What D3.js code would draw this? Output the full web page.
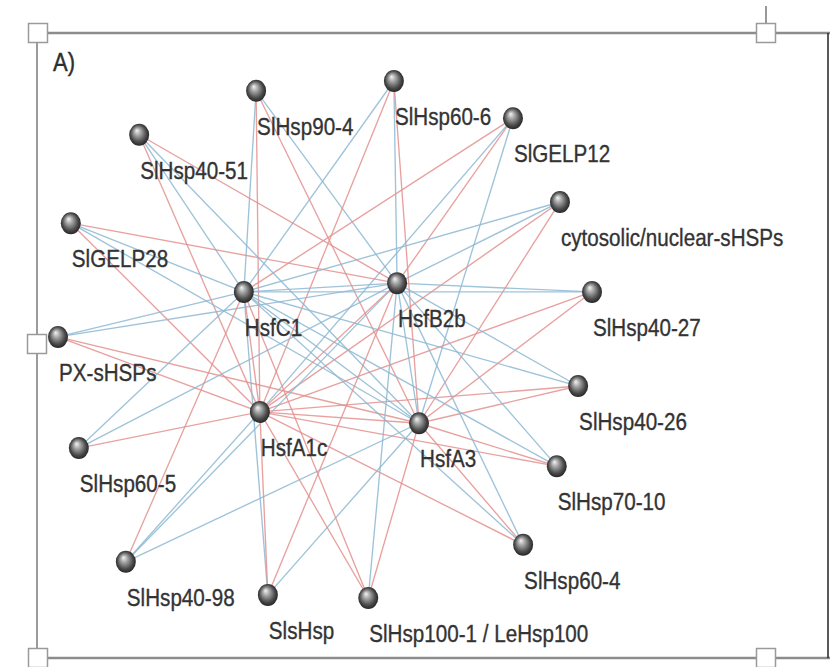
<!DOCTYPE html>
<html>
<head>
<meta charset="utf-8">
<script src="https://cdn.jsdelivr.net/npm/d3@7"></script>
<style>
  html, body { margin: 0; padding: 0; background: #fff; }
  svg { display: block; }
</style>
</head>
<body>
<svg id="chart" width="830" height="667"></svg>
<script>
// Network of heat-stress transcription factors (hubs) and their target chaperones.
// Layout coordinates are in a 0–100 unit space on each axis.
const nodeNames = [
  "SlHsp90-4", "SlHsp60-6", "SlGELP12", "SlHsp40-51", "cytosolic/nuclear-sHSPs",
  "SlGELP28", "HsfC1", "HsfB2b", "SlHsp40-27", "PX-sHSPs",
  "HsfA1c", "HsfA3", "SlHsp40-26", "SlHsp60-5", "SlHsp70-10",
  "SlHsp60-4", "SlHsp40-98", "SlsHsp", "SlHsp100-1 / LeHsp100"
];
const nodeX = [37.1, 62.9, 85.2, 15.2, 94.0, 2.4, 34.8, 63.5, 100, 0, 37.8, 67.6, 97.4, 3.9, 93.4, 87.1, 12.7, 39.3, 58.1];
const nodeY = [1.9, 0, 7.2, 10.4, 23.4, 27.5, 40.8, 39.1, 40.8, 49.5, 64.0, 66.2, 59.0, 71.0, 74.5, 89.7, 93.0, 99.4, 100];

// Edges: source, target, and regulation sign ("pos" drawn red, "neg" drawn blue)
const edgeFrom = [
  "SlHsp90-4", "SlHsp90-4", "SlHsp90-4", "SlHsp90-4",
  "SlHsp60-6", "SlHsp60-6", "SlHsp60-6", "SlHsp60-6",
  "SlGELP12", "SlGELP12", "SlGELP12", "SlGELP12",
  "SlHsp40-51", "SlHsp40-51", "SlHsp40-51", "SlHsp40-51",
  "cytosolic/nuclear-sHSPs", "cytosolic/nuclear-sHSPs", "cytosolic/nuclear-sHSPs", "cytosolic/nuclear-sHSPs",
  "SlGELP28", "SlGELP28", "SlGELP28", "SlGELP28",
  "SlHsp40-27", "SlHsp40-27", "SlHsp40-27", "SlHsp40-27",
  "PX-sHSPs", "PX-sHSPs", "PX-sHSPs", "PX-sHSPs",
  "SlHsp40-26", "SlHsp40-26", "SlHsp40-26", "SlHsp40-26",
  "SlHsp60-5", "SlHsp60-5", "SlHsp60-5",
  "SlHsp70-10", "SlHsp70-10", "SlHsp70-10", "SlHsp70-10",
  "SlHsp60-4", "SlHsp60-4", "SlHsp60-4", "SlHsp60-4",
  "SlHsp40-98", "SlHsp40-98", "SlHsp40-98", "SlHsp40-98",
  "SlsHsp", "SlsHsp", "SlsHsp", "SlsHsp",
  "SlHsp100-1 / LeHsp100", "SlHsp100-1 / LeHsp100", "SlHsp100-1 / LeHsp100", "SlHsp100-1 / LeHsp100",
  "HsfC1", "HsfC1", "HsfC1", "HsfB2b", "HsfB2b", "HsfA1c"
];
const edgeTo = [
  "HsfC1", "HsfB2b", "HsfA1c", "HsfA3",
  "HsfC1", "HsfB2b", "HsfA1c", "HsfA3",
  "HsfC1", "HsfB2b", "HsfA1c", "HsfA3",
  "HsfC1", "HsfB2b", "HsfA1c", "HsfA3",
  "HsfC1", "HsfB2b", "HsfA1c", "HsfA3",
  "HsfC1", "HsfB2b", "HsfA1c", "HsfA3",
  "HsfC1", "HsfB2b", "HsfA1c", "HsfA3",
  "HsfC1", "HsfB2b", "HsfA1c", "HsfA3",
  "HsfC1", "HsfB2b", "HsfA1c", "HsfA3",
  "HsfC1", "HsfB2b", "HsfA1c",
  "HsfC1", "HsfB2b", "HsfA1c", "HsfA3",
  "HsfC1", "HsfB2b", "HsfA1c", "HsfA3",
  "HsfC1", "HsfB2b", "HsfA1c", "HsfA3",
  "HsfC1", "HsfB2b", "HsfA1c", "HsfA3",
  "HsfC1", "HsfB2b", "HsfA1c", "HsfA3",
  "HsfB2b", "HsfA1c", "HsfA3", "HsfA1c", "HsfA3", "HsfA3"
];
const edgeSign = [
  "neg", "neg", "pos", "pos",
  "neg", "neg", "pos", "pos",
  "pos", "pos", "neg", "neg",
  "neg", "pos", "pos", "neg",
  "neg", "neg", "pos", "pos",
  "neg", "pos", "pos", "neg",
  "neg", "neg", "pos", "pos",
  "neg", "neg", "pos", "pos",
  "neg", "neg", "pos", "pos",
  "neg", "neg", "pos",
  "neg", "neg", "pos", "pos",
  "neg", "neg", "pos", "pos",
  "pos", "neg", "neg", "neg",
  "neg", "pos", "pos", "neg",
  "pos", "neg", "pos", "pos",
  "neg", "pos", "neg", "pos", "neg", "pos"
];

const svg = d3.select("#chart");

// Layout space -> screen
const x = d3.scaleLinear().domain([0, 100]).range([58, 592]);
const y = d3.scaleLinear().domain([0, 100]).range([81, 598]);

const nodes = nodeNames.map((name, i) => ({ name, lx: nodeX[i], ly: nodeY[i] }));
const byName = new Map(nodes.map(d => [d.name, d]));
const links = edgeFrom.map((s, i) => ({ source: byName.get(s), target: byName.get(edgeTo[i]), sign: edgeSign[i] }));

const edgeColor = d3.scaleOrdinal().domain(["pos", "neg"]).range(["#e3918e", "#8db8d2"]);

// Sphere shading
const defs = svg.append("defs");
const grad = defs.append("radialGradient")
  .attr("id", "sphere")
  .attr("cx", "50%").attr("cy", "50%").attr("r", "55%")
  .attr("fx", "38%").attr("fy", "30%");
grad.selectAll("stop")
  .data([[0, "#f4f4f4"], [0.3, "#a8a8a8"], [0.7, "#4c4c4c"], [1, "#1c1c1c"]])
  .join("stop")
  .attr("offset", d => d[0])
  .attr("stop-color", d => d[1]);

// Panel frame with selection handles
const frame = svg.append("g").attr("class", "frame");
frame.append("line").attr("x1", 38).attr("x2", 830).attr("y1", 33).attr("y2", 33)
  .attr("stroke", "#8c8c8c").attr("stroke-width", 2.5);
frame.append("line").attr("x1", 38).attr("x2", 830).attr("y1", 658).attr("y2", 658)
  .attr("stroke", "#8c8c8c").attr("stroke-width", 2.5);
frame.append("line").attr("x1", 37).attr("x2", 37).attr("y1", 33).attr("y2", 667)
  .attr("stroke", "#7a7a7a").attr("stroke-width", 1.5);
frame.append("line").attr("x1", 828).attr("x2", 828).attr("y1", 33).attr("y2", 658)
  .attr("stroke", "#222").attr("stroke-width", 1.5);
frame.append("line").attr("x1", 766).attr("x2", 766).attr("y1", 6).attr("y2", 24)
  .attr("stroke", "#777").attr("stroke-width", 1.5);
frame.selectAll("rect.handle")
  .data([[38, 33], [766, 33], [37, 344], [38, 658], [766, 658]])
  .join("rect")
  .attr("class", "handle")
  .attr("x", d => d[0] - 9.5).attr("y", d => d[1] - 9.5)
  .attr("width", 19).attr("height", 19)
  .attr("fill", "#fff").attr("stroke", "#9a9a9a").attr("stroke-width", 1.5);

// Panel tag
svg.append("text")
  .attr("transform", "translate(53,71) scale(0.88,1)")
  .attr("font-family", "'Liberation Sans', Arial, sans-serif")
  .attr("font-size", 25)
  .attr("fill", "#2e2e2e")
  .attr("stroke", "#2e2e2e").attr("stroke-width", 0.4)
  .text("A)");

// Edges
svg.append("g").attr("class", "links")
  .selectAll("line")
  .data(links)
  .join("line")
  .attr("x1", d => x(d.source.lx)).attr("y1", d => y(d.source.ly))
  .attr("x2", d => x(d.target.lx)).attr("y2", d => y(d.target.ly))
  .attr("stroke", d => edgeColor(d.sign))
  .attr("stroke-width", 1.35)
  .attr("stroke-opacity", 0.85);

// Labels, placed below-right of each node
svg.append("g").attr("class", "labels")
  .selectAll("text")
  .data(nodes)
  .join("text")
  .attr("transform", d => `translate(${x(d.lx) + 1},${y(d.ly) + 44}) scale(0.86,1)`)
  .attr("font-family", "'Liberation Sans', Arial, sans-serif")
  .attr("font-size", 24)
  .attr("fill", "#333")
  .attr("stroke", "#333").attr("stroke-width", 0.35)
  .text(d => d.name);

// Nodes
svg.append("g").attr("class", "nodes")
  .selectAll("ellipse")
  .data(nodes)
  .join("ellipse")
  .attr("cx", d => x(d.lx)).attr("cy", d => y(d.ly))
  .attr("rx", 10).attr("ry", 11)
  .attr("fill", "url(#sphere)");
</script>
</body>
</html>
